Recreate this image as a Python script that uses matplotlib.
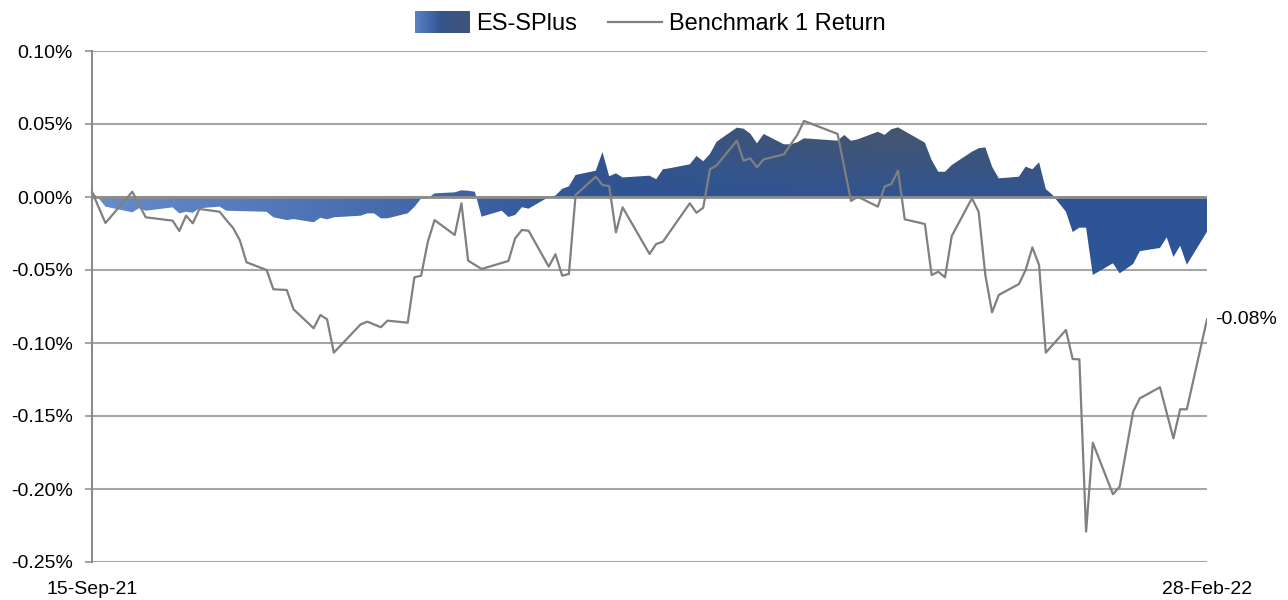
import numpy as np
import pandas as pd
import matplotlib
matplotlib.use('Agg')
import matplotlib.pyplot as plt
import matplotlib.dates as mdates
from matplotlib.legend_handler import HandlerBase
from matplotlib.patches import Rectangle, Patch
from matplotlib.lines import Line2D

plt.rcParams['font.family'] = ['Liberation Sans', 'DejaVu Sans']

# days counted from 15-Sep-21, values in %
start = pd.Timestamp('2021-09-15')

bench_days = [0, 2, 6, 8, 12, 13, 14, 15, 16, 19,
              20, 21, 22, 23, 26, 27, 29, 30, 33, 34,
              35, 36, 40, 41, 43, 44, 47, 48, 49, 50,
              51, 54, 55, 56, 58, 62, 63, 64, 65, 68,
              69, 70, 71, 72, 75, 76, 77, 78, 79, 83,
              84, 85, 89, 90, 91, 92, 93, 96, 97, 98,
              99, 100, 103, 105, 106, 111, 113, 114, 117, 118,
              119, 120, 121, 124, 125, 126, 127, 128, 131, 132,
              133, 134, 135, 138, 139, 140, 141, 142, 145, 146,
              147, 148, 149, 152, 153, 155, 156, 159, 161, 162,
              163, 166]
bench_vals = [0.0036, -0.0178, 0.0036, -0.0139, -0.0162, -0.0233, -0.0128, -0.0180, -0.0082, -0.0101,
              -0.0158, -0.0212, -0.0295, -0.0447, -0.0500, -0.0632, -0.0637, -0.0769, -0.0899, -0.0808,
              -0.0838, -0.1066, -0.0872, -0.0854, -0.0892, -0.0847, -0.0861, -0.0550, -0.0539, -0.0306,
              -0.0158, -0.0260, -0.0043, -0.0436, -0.0493, -0.0438, -0.0283, -0.0226, -0.0231, -0.0477,
              -0.0392, -0.0539, -0.0527, 0.0014, 0.0139, 0.0082, 0.0075, -0.0242, -0.0071, -0.0390,
              -0.0322, -0.0306, -0.0043, -0.0108, -0.0073, 0.0190, 0.0217, 0.0386, 0.0249, 0.0265,
              0.0203, 0.0258, 0.0292, 0.0425, 0.0521, 0.0432, -0.0027, 0.0002, -0.0066, 0.0071,
              0.0089, 0.0180, -0.0153, -0.0185, -0.0534, -0.0512, -0.0550, -0.0267, -0.0009, -0.0101,
              -0.0534, -0.0790, -0.0671, -0.0596, -0.0500, -0.0345, -0.0466, -0.1066, -0.0911, -0.1110,
              -0.1112, -0.2292, -0.1683, -0.2036, -0.1984, -0.1471, -0.1379, -0.1303, -0.1653, -0.1454,
              -0.1454, -0.0838]

es_days = [0, 1, 2, 6, 7, 8, 12, 13, 14, 15,
           16, 19, 20, 26, 27, 29, 30, 33, 34, 35,
           36, 40, 41, 42, 43, 44, 47, 48, 49, 50,
           51, 54, 55, 56, 57, 58, 61, 62, 63, 64,
           65, 68, 69, 70, 71, 72, 75, 76, 77, 78,
           79, 83, 84, 85, 86, 89, 90, 91, 92, 93,
           96, 97, 98, 99, 100, 103, 104, 105, 106, 111,
           112, 113, 114, 117, 118, 119, 120, 124, 125, 126,
           127, 128, 131, 132, 133, 134, 135, 138, 139, 140,
           141, 142, 143, 145, 146, 147, 148, 149, 152, 153,
           155, 156, 159, 160, 161, 162, 163, 166]
es_vals = [0.0036, -0.0009, -0.0066, -0.0105, -0.0077, -0.0094, -0.0071, -0.0112, -0.0101, -0.0108,
           -0.0077, -0.0066, -0.0094, -0.0101, -0.0139, -0.0158, -0.0151, -0.0173, -0.0142, -0.0153,
           -0.0139, -0.0128, -0.0112, -0.0112, -0.0146, -0.0146, -0.0112, -0.0068, -0.0010, -0.0009,
           0.0025, 0.0032, 0.0046, 0.0043, 0.0036, -0.0135, -0.0094, -0.0137, -0.0123, -0.0070,
           -0.0080, 0.0000, 0.0010, 0.0056, 0.0073, 0.0151, 0.0180, 0.0308, 0.0142, 0.0162,
           0.0134, 0.0146, 0.0122, 0.0190, 0.0197, 0.0224, 0.0281, 0.0245, 0.0295, 0.0379,
           0.0475, 0.0468, 0.0434, 0.0368, 0.0432, 0.0361, 0.0361, 0.0375, 0.0402, 0.0386,
           0.0425, 0.0385, 0.0395, 0.0447, 0.0425, 0.0464, 0.0477, 0.0372, 0.0253, 0.0173,
           0.0173, 0.0219, 0.0310, 0.0334, 0.0340, 0.0208, 0.0128, 0.0139, 0.0208, 0.0190,
           0.0238, 0.0055, 0.0014, -0.0101, -0.0240, -0.0210, -0.0210, -0.0534, -0.0454, -0.0523,
           -0.0459, -0.0371, -0.0349, -0.0276, -0.0411, -0.0334, -0.0464, -0.0238]

yticks = [-0.25, -0.20, -0.15, -0.10, -0.05, 0.00, 0.05, 0.10]
end_labels = ['15-Sep-21', '28-Feb-22']

bench_dates = start + pd.to_timedelta(bench_days, unit='D')
es_dates = start + pd.to_timedelta(es_days, unit='D')

light = np.array([0.40, 0.55, 0.80])
blue = np.array([0.18, 0.33, 0.59])
slate = np.array([0.28, 0.33, 0.41])


def grad_color(u, w):
    a = np.clip(u / 0.45, 0, 1)[..., None]
    base = light + (blue - light) * a
    s = (np.clip((w - 0.45) / 0.5, 0, 1) * np.clip((u - 0.3) / 0.4, 0, 1))[..., None]
    return base + (slate - base) * s


class GradHandler(HandlerBase):
    def create_artists(self, legend, orig_handle, xdescent, ydescent, width, height, fontsize, trans):
        n = 30
        arts = []
        for i in range(n):
            u = np.array(0.1 + 0.7 * i / (n - 1))
            c = grad_color(u, np.array(0.75))
            arts.append(Rectangle((-xdescent + width * i / n, -ydescent - height * 0.15),
                                  width / n + 0.4, height * 1.3, facecolor=c,
                                  edgecolor='none', transform=trans))
        return arts


fig = plt.figure(figsize=(12.88, 6), dpi=100)
ax = fig.add_axes([92 / 1288, 38 / 600, 1115 / 1288, 511 / 600])

x0 = mdates.date2num(bench_dates[0])
x1 = mdates.date2num(bench_dates[-1])

# gradient filled area clipped to the series shape
poly = ax.fill_between(es_dates, es_vals, 0, facecolor='none', edgecolor='none')
uu, ww = np.meshgrid(np.linspace(0, 1, 400), np.linspace(0, 1, 200))
img = grad_color(uu, ww)
im = ax.imshow(img, extent=[x0, x1, -0.06, 0.06], origin='lower', aspect='auto',
               interpolation='bilinear', zorder=2)
im.set_clip_path(poly.get_paths()[0], transform=ax.transData)

ax.plot(bench_dates, bench_vals, color='#808080', lw=1.6, zorder=4)
ax.axhline(0, color='#8c8c8c', lw=2, zorder=3)

ax.annotate(f"{bench_vals[-1]:.2f}%", (bench_dates[-1], bench_vals[-1]),
            xytext=(6, 0), textcoords='offset points', va='center', ha='left', fontsize=14)

ax.set_xlim(x0, x1)
ax.set_ylim(-0.25, 0.10)
ax.set_yticks(yticks)
ax.set_yticklabels([f"{t:.2f}%" for t in yticks])
ax.set_xticks([x0, x1])
ax.set_xticklabels(end_labels)
ax.yaxis.grid(True, color='#a6a6a6', lw=1.5)
ax.set_axisbelow(True)
for s in ['top', 'right', 'bottom']:
    ax.spines[s].set_visible(False)
ax.spines['left'].set_color('#8c8c8c')
ax.spines['left'].set_linewidth(1.5)
ax.tick_params(axis='y', length=5, width=1.5, color='#a6a6a6', pad=9, labelsize=14)
ax.tick_params(axis='x', length=0, pad=14, labelsize=14)

handles = [Patch(label='ES-SPlus'),
           Line2D([], [], color='#808080', lw=1.6, label='Benchmark 1 Return')]
fig.legend(handles=handles, handler_map={Patch: GradHandler()}, loc='upper center',
           bbox_to_anchor=(0.505, 1.0), ncol=2, frameon=False, fontsize=17,
           handlelength=2.3, handleheight=0.75, handletextpad=0.3, columnspacing=1.3,
           borderaxespad=0.15)

fig.savefig('out.png', dpi=100)
